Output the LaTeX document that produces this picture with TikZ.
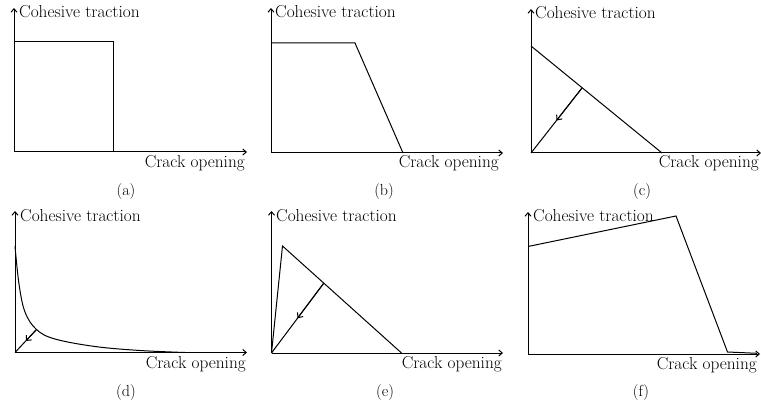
\documentclass[tikz,border=0pt]{standalone}
\usepackage{tikz}
\usetikzlibrary{arrows.meta,calc}

\begin{document}
\begin{tikzpicture}[x=1pt, y=-1pt,
  ax/.style={-{Straight Barb[length=3.5pt,width=6pt]}, line width=1pt},
  ln/.style={line width=1pt, line join=miter},
  arr/.style={-{Straight Barb[length=4pt,width=7pt]}, line width=1pt},
  lbl/.style={font=\fontsize{17.3}{20}\selectfont, inner sep=0pt},
  subcap/.style={font=\fontsize{16}{19}\selectfont, inner sep=0pt}
]
\useasboundingbox (0,0) rectangle (761,406);

% (a)
\coordinate (a-o) at (14,152);
\coordinate (a-y) at (14,8);
\coordinate (a-x) at (247,152);
\draw[ax] (a-o) -- (a-y);
\draw[ax] (a-o) -- (a-x);
\coordinate (a-1) at (14,42);
\coordinate (a-2) at (113,42);
\coordinate (a-3) at (113,152);
\draw[ln] (a-1) -- (a-2) -- (a-3);
\node[lbl, anchor=base west] (a-ty) at (19,18) {Cohesive traction};
\node[lbl, anchor=base east] (a-tx) at (245,168) {Crack opening};
\node[subcap] (a-cap) at (126,192) {(a)};

% (b)
\coordinate (b-o) at (271,153);
\coordinate (b-y) at (271,8);
\coordinate (b-x) at (503,153);
\draw[ax] (b-o) -- (b-y);
\draw[ax] (b-o) -- (b-x);
\coordinate (b-1) at (271,43);
\coordinate (b-2) at (355,43);
\coordinate (b-3) at (403,153);
\draw[ln] (b-1) -- (b-2) -- (b-3);
\node[lbl, anchor=base west] (b-ty) at (275,18) {Cohesive traction};
\node[lbl, anchor=base east] (b-tx) at (499,168) {Crack opening};
\node[subcap] (b-cap) at (384,192) {(b)};

% (c)
\coordinate (c-o) at (531,153);
\coordinate (c-y) at (531,9);
\coordinate (c-x) at (761,153);
\draw[ax] (c-o) -- (c-y);
\draw[ax] (c-o) -- (c-x);
\coordinate (c-1) at (531,46);
\coordinate (c-2) at (662,153);
\coordinate (c-u) at (582,88);
\draw[ln] (c-1) -- (c-2);
\draw[ln] (c-o) -- (c-u);
\draw[arr] (c-u) -- ($(c-o)!0.5!(c-u)$);
\node[lbl, anchor=base west] (c-ty) at (535,19) {Cohesive traction};
\node[lbl, anchor=base east] (c-tx) at (759,168) {Crack opening};
\node[subcap] (c-cap) at (642,192) {(c)};

% (d)
\coordinate (d-o) at (15,352.5);
\coordinate (d-y) at (15,211);
\coordinate (d-x) at (247,352.5);
\draw[ax] (d-o) -- (d-y);
\draw[ax] (d-o) -- (d-x);
\coordinate (d-u) at (36.5,329.5);
\draw[ln] plot[smooth, tension=0.6] coordinates {(15,246) (19,284) (25,312) (d-u) (55,339) (95,346.5) (140,350.5) (185,352.5)};
\draw[ln] (d-o) -- (d-u);
\draw[arr] (d-u) -- ($(d-o)!0.5!(d-u)$);
\node[lbl, anchor=base west] (d-ty) at (20,222) {Cohesive traction};
\node[lbl, anchor=base east] (d-tx) at (246,368) {Crack opening};
\node[subcap] (d-cap) at (126,393) {(d)};

% (e)
\coordinate (e-o) at (271.5,353);
\coordinate (e-y) at (271.5,211);
\coordinate (e-x) at (503,353);
\draw[ax] (e-o) -- (e-y);
\draw[ax] (e-o) -- (e-x);
\coordinate (e-1) at (282.5,246);
\coordinate (e-2) at (401.5,353);
\coordinate (e-u) at (323.5,283.5);
\draw[ln] (e-o) -- (e-1) -- (e-2);
\draw[ln] (e-o) -- (e-u);
\draw[arr] (e-u) -- ($(e-o)!0.5!(e-u)$);
\node[lbl, anchor=base west] (e-ty) at (276,222) {Cohesive traction};
\node[lbl, anchor=base east] (e-tx) at (502,368) {Crack opening};
\node[subcap] (e-cap) at (385,393) {(e)};

% (f)
\coordinate (f-o) at (528,354);
\coordinate (f-y) at (528,212);
\coordinate (f-x) at (760,354);
\draw[ax] (f-o) -- (f-y);
\draw[ax] (f-o) -- (f-x);
\coordinate (f-1) at (528,246.5);
\coordinate (f-2) at (676,216);
\coordinate (f-3) at (727.5,352);
\coordinate (f-4) at (757,353.3);
\draw[ln] (f-1) -- (f-2) -- (f-3) -- (f-4);
\node[lbl, anchor=base west] (f-ty) at (533,222) {Cohesive traction};
\node[lbl, anchor=base east] (f-tx) at (757,369) {Crack opening};
\node[subcap] (f-cap) at (641,393) {(f)};
\end{tikzpicture}
\end{document}
